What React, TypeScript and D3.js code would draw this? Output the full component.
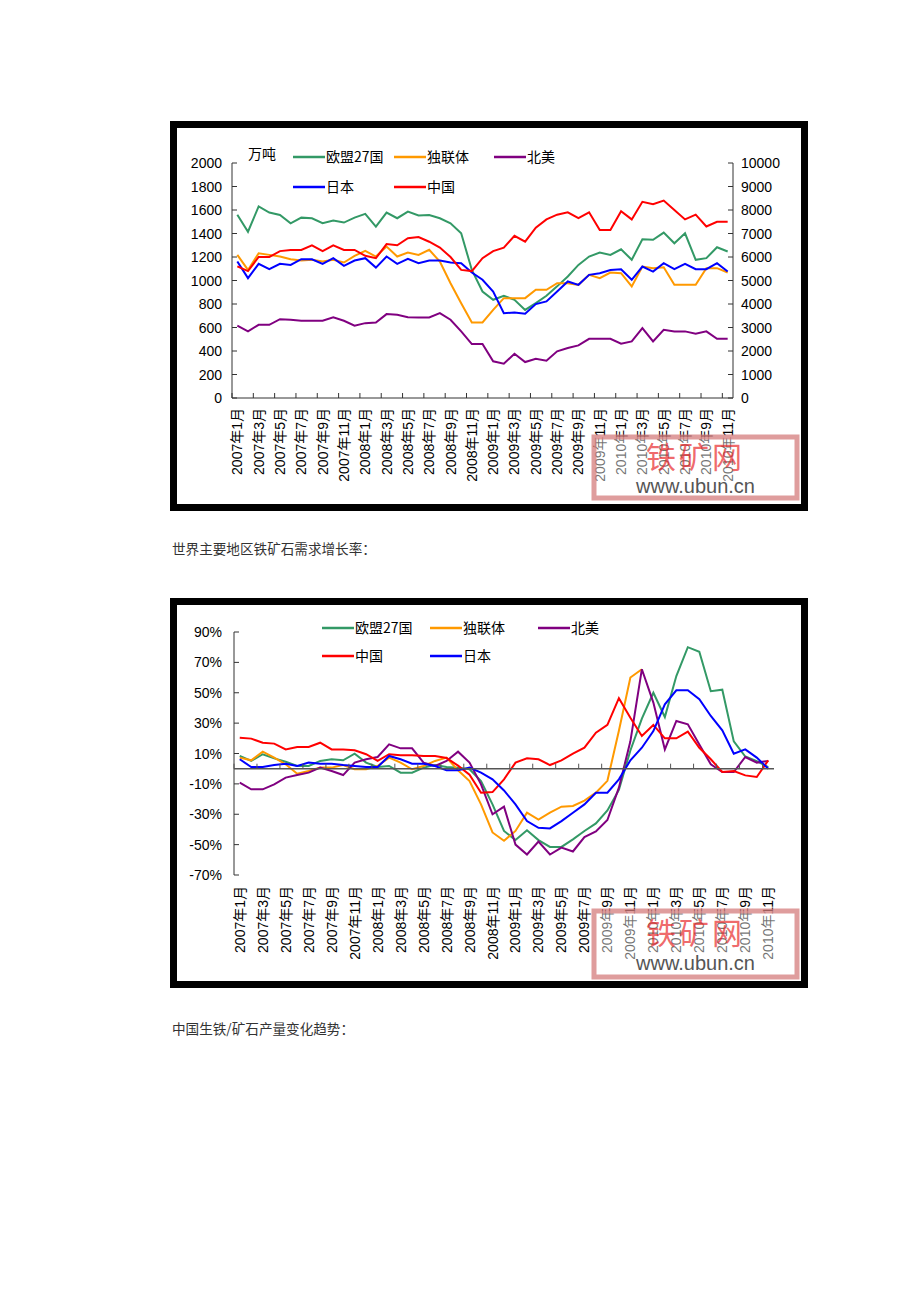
import React from "react";
import * as d3 from "d3";

// ---------- categories ----------
const months: string[] = [
  "2007年1月","2007年2月","2007年3月","2007年4月","2007年5月","2007年6月","2007年7月","2007年8月","2007年9月","2007年10月","2007年11月","2007年12月",
  "2008年1月","2008年2月","2008年3月","2008年4月","2008年5月","2008年6月","2008年7月","2008年8月","2008年9月","2008年10月","2008年11月","2008年12月",
  "2009年1月","2009年2月","2009年3月","2009年4月","2009年5月","2009年6月","2009年7月","2009年8月","2009年9月","2009年10月","2009年11月","2009年12月",
  "2010年1月","2010年2月","2010年3月","2010年4月","2010年5月","2010年6月","2010年7月","2010年8月","2010年9月","2010年10月","2010年11月",
];

// ---------- chart 1: demand (万吨) ----------
const eu1 = [1560,1415,1630,1578,1558,1487,1535,1530,1487,1510,1493,1535,1567,1459,1578,1530,1586,1553,1558,1530,1487,1402,1090,906,836,870,836,750,807,870,950,1034,1133,1204,1238,1218,1266,1176,1351,1346,1408,1317,1402,1176,1190,1283,1247];
const cis1 = [1218,1090,1232,1218,1204,1181,1170,1176,1161,1176,1153,1210,1252,1204,1289,1204,1238,1218,1261,1161,977,807,643,643,750,850,850,850,921,921,977,977,963,1048,1020,1068,1062,950,1119,1105,1113,963,963,963,1105,1105,1068];
const na1 = [615,567,623,623,671,666,657,657,657,686,657,615,637,643,714,708,688,686,686,722,666,567,459,459,312,292,377,306,334,317,397,425,448,504,504,504,462,482,595,482,581,567,567,547,567,504,504];
const jp1 = [1161,1020,1142,1096,1142,1133,1181,1181,1142,1190,1125,1170,1190,1110,1204,1142,1184,1147,1170,1170,1153,1147,1068,1006,906,722,728,717,799,822,906,992,963,1048,1062,1090,1096,1006,1119,1076,1147,1096,1142,1096,1096,1147,1076];
// China on the right axis
const cn1 = [5600,5400,6000,6000,6250,6300,6300,6500,6250,6500,6300,6300,6050,5950,6550,6500,6800,6850,6650,6400,6000,5450,5400,5950,6250,6400,6900,6650,7250,7600,7800,7900,7650,7900,7150,7150,7950,7600,8350,8250,8400,8000,7600,7800,7300,7500,7500];
const leftTicks1 = [0,200,400,600,800,1000,1200,1400,1600,1800,2000];
const rightTicks1 = [0,1000,2000,3000,4000,5000,6000,7000,8000,9000,10000];

// ---------- chart 2: growth rate (%) ----------
const eu2 = [8.4,5.1,9.5,6.8,4.6,1.8,1.8,5.1,6.2,5.5,9.9,4.0,1.1,1.8,-2.6,-2.6,0.7,2.4,1.1,0.7,-0.4,-8.1,-23.5,-41,-47,-40.5,-47,-51.5,-51.5,-46.5,-41,-36,-27.5,-14,12,33,50,34,61,80,77,51,52,18,8,5,1];
const cis2 = [7.3,5.5,11.2,7.3,2.9,-3.3,-1.5,0.7,0.7,2.4,-0.4,-0.4,1.8,7.3,4.0,-0.4,1.8,5.1,7.3,-1.1,-8.1,-23.5,-42,-47.5,-41,-29,-33.5,-29,-25,-24.5,-21,-15.8,-8,25,60,65.5];
const na2 = [-9.2,-13.6,-13.6,-10.3,-5.9,-4.2,-2.6,0.7,-1.5,-4.2,4,6.2,7.7,16,13.4,13.4,4,1.8,5.1,11.2,4,-10.3,-30,-25,-50,-56.5,-48,-56.5,-52,-54.5,-45,-41.3,-33.8,-12.5,18,65.5,43.5,12.7,31.4,29.2,16,2.9,-2.2,-2.2,7.7,4,5.1];
const cn2 = [20.4,19.8,17.1,16.5,12.7,14.3,14.3,17.1,12.7,12.7,12.1,9.5,5.1,9.5,8.8,8.8,8.4,8.4,7,2,-4,-15.8,-15.4,-7,4,6.8,6.2,2.4,5.5,9.9,13.8,23.7,28.8,46.4,33.6,21.5,28.8,20,20,24.4,13.8,6.2,-2.2,-1.5,-4.4,-5.5,5.5];
const jp2 = [6.2,1.1,1.1,2.4,3.3,1.8,4.0,3.3,3.3,2.4,1.8,1.1,1.1,8.4,6.2,3.3,3.3,1.8,-1.1,-1.1,0.7,-2.6,-7,-14.3,-23.5,-34.5,-38.9,-39.3,-34.5,-29,-23.5,-15.8,-15.8,-7,5.5,13.8,24.8,42.4,51.6,51.6,45.7,34.7,25.3,9.9,12.7,7.3,0];
const ticks2 = [-70,-50,-30,-10,10,30,50,70,90];

const COL = { eu: "#339966", cis: "#FF9900", na: "#800080", jp: "#0000FF", cn: "#FF0000" };
const NUM_FONT = "'Liberation Sans', Arial, 'Noto Sans CJK SC', sans-serif";
const CJK_FONT = "'Noto Sans CJK SC', 'Liberation Sans', sans-serif";

function Frame({ y, h }: { y: number; h: number }) {
  return (
    <g>
      <rect x={170} y={y} width={638} height={h} fill="#000" />
      <rect x={177} y={y + 7} width={624} height={h - 14} fill="#fff" />
    </g>
  );
}

function Watermark({ x, y, w, h, t1, t2 }: { x: number; y: number; w: number; h: number; t1: number; t2: number }) {
  const cx = x + w / 2;
  return (
    <g>
      <rect x={x} y={y} width={w} height={h} fill="#fff" fillOpacity={0.45} stroke="#d47c7c" strokeOpacity={0.75} strokeWidth={5} />
      <text x={cx} y={t1} textAnchor="middle" fontFamily={CJK_FONT} fontSize={30} fill="#e8282a" fillOpacity={0.7} letterSpacing={3}>铁矿网</text>
      <text x={cx} y={t2} textAnchor="middle" fontFamily={NUM_FONT} fontSize={20} fill="#555">www.ubun.cn</text>
    </g>
  );
}

function LegendItem({ x, y, color, label }: { x: number; y: number; color: string; label: string }) {
  return (
    <g>
      <line x1={x} x2={x + 32} y1={y} y2={y} stroke={color} strokeWidth={2.5} />
      <text x={x + 33} y={y + 5} fontFamily={CJK_FONT} fontSize={14} fill="#000">{label}</text>
    </g>
  );
}

export default function App() {
  // ---- chart 1 scales ----
  const x1 = d3.scaleBand<string>().domain(months).range([232, 733]);
  const bw1 = x1.bandwidth();
  const yL = d3.scaleLinear().domain([0, 2000]).range([398, 163]);
  const yR = d3.scaleLinear().domain([0, 10000]).range([398, 163]);
  const lineL = d3.line<number>().x((_, i) => (x1(months[i]) as number) + bw1 / 2).y((d) => yL(d));
  const lineR = d3.line<number>().x((_, i) => (x1(months[i]) as number) + bw1 / 2).y((d) => yR(d));

  // ---- chart 2 scales ----
  const x2 = d3.scaleBand<string>().domain(months).range([234, 774]);
  const bw2 = x2.bandwidth();
  const y2 = d3.scaleLinear().domain([-70, 90]).range([875, 632]);
  const line2 = d3.line<number>().x((_, i) => (x2(months[i]) as number) + bw2 / 2).y((d) => y2(d));

  const labelIdx = months.map((_, i) => i).filter((i) => i % 2 === 0);
  const tickIdx1 = d3.range(0, months.length + 1, 2);

  return (
    <svg width={920} height={1302} style={{ position: "absolute", left: 0, top: 0, background: "#fff" }}>
      <rect x={0} y={0} width={920} height={1302} fill="#fff" />

      {/* ================= Chart 1 ================= */}
      <Frame y={121} h={390} />
      <line x1={232} x2={232} y1={yL(2000)} y2={yL(0)} stroke="#333" strokeWidth={1} />
      <line x1={733} x2={733} y1={yR(10000)} y2={yR(0)} stroke="#333" strokeWidth={1} />
      <line x1={232} x2={733} y1={yL(0)} y2={yL(0)} stroke="#333" strokeWidth={1} />
      {leftTicks1.map((t) => (
        <g key={"l" + t}>
          <line x1={232} x2={237} y1={yL(t)} y2={yL(t)} stroke="#333" />
          <text x={222} y={yL(t) + 5} textAnchor="end" fontFamily={NUM_FONT} fontSize={14} fill="#000">{t}</text>
        </g>
      ))}
      {rightTicks1.map((t) => (
        <g key={"r" + t}>
          <line x1={728} x2={733} y1={yR(t)} y2={yR(t)} stroke="#333" />
          <text x={741} y={yR(t) + 5} textAnchor="start" fontFamily={NUM_FONT} fontSize={14} fill="#000">{t}</text>
        </g>
      ))}
      {tickIdx1.map((k) => {
        const xx = 232 + k * bw1;
        return <line key={"bt" + k} x1={xx} x2={xx} y1={yL(0)} y2={yL(0) - 5} stroke="#333" />;
      })}
      {labelIdx.map((i) => {
        const cx = (x1(months[i]) as number) + bw1 / 2;
        return (
          <text key={"xl1" + i} transform={`translate(${cx},408) rotate(-90)`} textAnchor="end" dominantBaseline="central"
            fontFamily={NUM_FONT} fontSize={14} fill="#000">{months[i]}</text>
        );
      })}
      <path d={lineL(eu1) as string} fill="none" stroke={COL.eu} strokeWidth={2} />
      <path d={lineL(cis1) as string} fill="none" stroke={COL.cis} strokeWidth={2} />
      <path d={lineL(na1) as string} fill="none" stroke={COL.na} strokeWidth={2} />
      <path d={lineL(jp1) as string} fill="none" stroke={COL.jp} strokeWidth={2} />
      <path d={lineR(cn1) as string} fill="none" stroke={COL.cn} strokeWidth={2} />
      <text x={248} y={159} fontFamily={CJK_FONT} fontSize={14} fill="#000">万吨</text>
      <LegendItem x={293} y={157} color={COL.eu} label="欧盟27国" />
      <LegendItem x={394} y={157} color={COL.cis} label="独联体" />
      <LegendItem x={494} y={157} color={COL.na} label="北美" />
      <LegendItem x={293} y={187} color={COL.jp} label="日本" />
      <LegendItem x={394} y={187} color={COL.cn} label="中国" />
      <Watermark x={594} y={437} w={203} h={61} t1={468} t2={493} />

      <text x={172} y={554} fontFamily={CJK_FONT} fontSize={13.6} fill="#333">世界主要地区铁矿石需求增长率：</text>

      {/* ================= Chart 2 ================= */}
      <Frame y={598} h={390} />
      <line x1={234} x2={234} y1={y2(90)} y2={y2(-70)} stroke="#333" strokeWidth={1} />
      {ticks2.map((t) => (
        <g key={"t2" + t}>
          <line x1={234} x2={239} y1={y2(t)} y2={y2(t)} stroke="#333" />
          <text x={222} y={y2(t) + 5} textAnchor="end" fontFamily={NUM_FONT} fontSize={14} fill="#000">{t + "%"}</text>
        </g>
      ))}
      {labelIdx.map((i) => {
        const cx = (x2(months[i]) as number) + bw2 / 2;
        return (
          <text key={"xl2" + i} transform={`translate(${cx},886) rotate(-90)`} textAnchor="end" dominantBaseline="central"
            fontFamily={NUM_FONT} fontSize={14} fill="#000">{months[i]}</text>
        );
      })}
      <path d={line2(eu2) as string} fill="none" stroke={COL.eu} strokeWidth={2} />
      <path d={line2(cis2) as string} fill="none" stroke={COL.cis} strokeWidth={2} />
      <path d={line2(na2) as string} fill="none" stroke={COL.na} strokeWidth={2} />
      <path d={line2(cn2) as string} fill="none" stroke={COL.cn} strokeWidth={2} />
      <path d={line2(jp2) as string} fill="none" stroke={COL.jp} strokeWidth={2} />
      <line x1={234} x2={774} y1={y2(0)} y2={y2(0)} stroke="#555" strokeWidth={1.5} />
      {tickIdx1.map((k) => {
        const xx = 234 + k * bw2;
        return <line key={"zt" + k} x1={xx} x2={xx} y1={y2(0)} y2={y2(0) - 5} stroke="#555" />;
      })}
      <LegendItem x={322} y={628} color={COL.eu} label="欧盟27国" />
      <LegendItem x={430} y={628} color={COL.cis} label="独联体" />
      <LegendItem x={538} y={628} color={COL.na} label="北美" />
      <LegendItem x={322} y={656} color={COL.cn} label="中国" />
      <LegendItem x={430} y={656} color={COL.jp} label="日本" />
      <Watermark x={594} y={911} w={203} h={66} t1={944} t2={970} />

      <text x={172} y={1034} fontFamily={CJK_FONT} fontSize={13.6} fill="#333">中国生铁/矿石产量变化趋势：</text>
    </svg>
  );
}
